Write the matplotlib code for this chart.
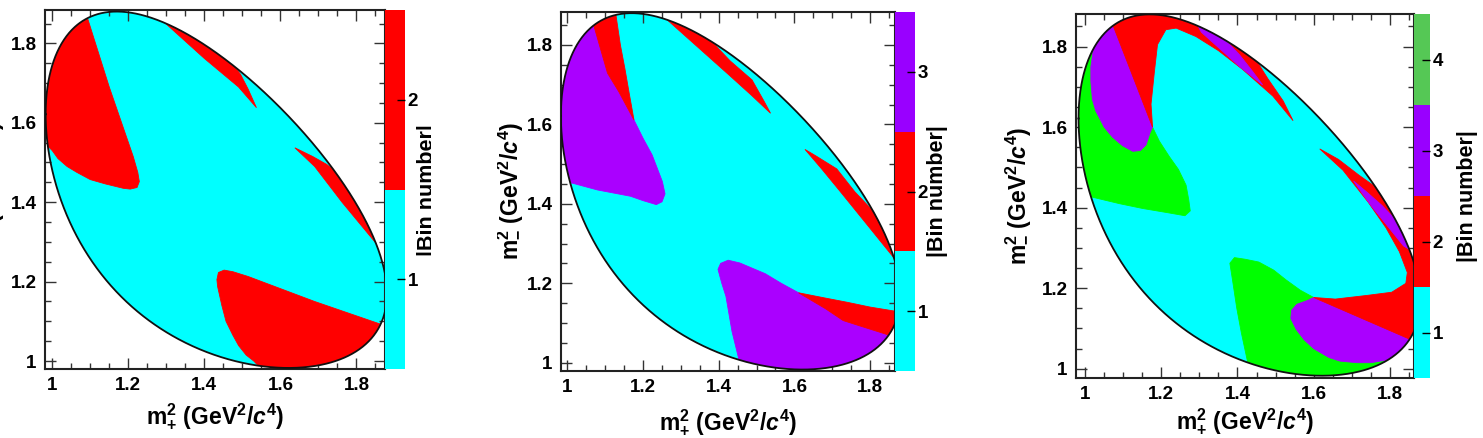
import numpy as np
import matplotlib
matplotlib.use('Agg')
import matplotlib.pyplot as plt
from matplotlib.colors import ListedColormap, BoundaryNorm
from matplotlib.cm import ScalarMappable
from matplotlib.patches import Polygon, Rectangle
from matplotlib.ticker import MultipleLocator, FuncFormatter

plt.rcParams['font.family'] = ['Liberation Sans', 'DejaVu Sans']
plt.rcParams['font.weight'] = 'bold'
plt.rcParams['mathtext.fontset'] = 'custom'
plt.rcParams['mathtext.rm'] = 'Liberation Sans:bold'
plt.rcParams['mathtext.it'] = 'Liberation Sans:bold:italic'
plt.rcParams['mathtext.bf'] = 'Liberation Sans:bold'

# ---------------- data ----------------
# particle masses (GeV/c^2) for D0 -> KS K+ K- phase space
M_D, M_KS, M_K = 1.86484, 0.497611, 0.493677

BIN_COLORS = ['#00ffff', '#ff0000', '#aa00ff', '#00ff00']
BAR_COLORS = ['#00ffff', '#ff0000', '#9900ff', '#55c855']
BAR_TICKS = [1, 2, 3, 4]

# bin regions in the m-^2 > m+^2 half (mirror copies are drawn too)
# panel 1
P1_BIN2_A_X = [1.064, 1.093, 1.150, 1.213, 1.225, 1.229, 1.223, 1.205, 1.187, 1.140, 1.100, 1.065, 1.039, 1.015, 1.000, 0.950, 0.900]
P1_BIN2_A_Y = [1.950, 1.863, 1.690, 1.515, 1.475, 1.452, 1.437, 1.433, 1.435, 1.446, 1.457, 1.475, 1.490, 1.510, 1.530, 1.580, 1.950]
P1_BIN2_B_X = [1.260, 1.297, 1.400, 1.490, 1.537, 1.515, 1.495, 1.450, 1.380, 1.280]
P1_BIN2_B_Y = [1.890, 1.851, 1.762, 1.690, 1.638, 1.685, 1.722, 1.780, 1.870, 1.930]
# panel 2
P2_BIN3_A_X = [1.050, 1.070, 1.092, 1.106, 1.136, 1.176, 1.200, 1.224, 1.251, 1.258, 1.250, 1.235, 1.200, 1.167, 1.079, 1.013, 0.950, 0.900]
P2_BIN3_A_Y = [1.930, 1.848, 1.775, 1.729, 1.682, 1.611, 1.565, 1.523, 1.456, 1.425, 1.405, 1.398, 1.408, 1.419, 1.435, 1.452, 1.462, 1.930]
P2_BIN2_A_X = [1.058, 1.070, 1.092, 1.106, 1.136, 1.176, 1.163, 1.152, 1.140, 1.128, 1.120]
P2_BIN2_A_Y = [1.930, 1.848, 1.775, 1.729, 1.682, 1.611, 1.680, 1.740, 1.800, 1.877, 1.930]
P2_BIN2_B_X = [1.230, 1.264, 1.350, 1.430, 1.488, 1.537, 1.520, 1.488, 1.430, 1.380, 1.330, 1.250]
P2_BIN2_B_Y = [1.890, 1.863, 1.790, 1.722, 1.672, 1.628, 1.658, 1.712, 1.760, 1.810, 1.880, 1.930]
# panel 3
P3_BIN4_A_X = [0.900, 1.015, 1.090, 1.151, 1.220, 1.262, 1.276, 1.272, 1.265, 1.245, 1.221, 1.195, 1.177, 1.076, 1.054, 0.900]
P3_BIN4_A_Y = [1.430, 1.427, 1.410, 1.398, 1.387, 1.380, 1.392, 1.420, 1.456, 1.495, 1.527, 1.565, 1.600, 1.846, 1.900, 1.900]
P3_BIN3_A_X = [1.054, 1.076, 1.177, 1.170, 1.160, 1.145, 1.125, 1.098, 1.072, 1.050, 1.028, 1.019, 1.015, 1.015, 1.022, 1.000]
P3_BIN3_A_Y = [1.900, 1.846, 1.600, 1.585, 1.556, 1.542, 1.540, 1.554, 1.575, 1.600, 1.640, 1.669, 1.714, 1.750, 1.795, 1.860]
P3_BIN2_A_X = [1.054, 1.076, 1.177, 1.173, 1.182, 1.190, 1.212, 1.239, 1.291, 1.350, 1.414, 1.493, 1.546, 1.520, 1.480, 1.440, 1.350, 1.150]
P3_BIN2_A_Y = [1.900, 1.846, 1.600, 1.657, 1.739, 1.805, 1.842, 1.846, 1.825, 1.790, 1.743, 1.677, 1.616, 1.665, 1.720, 1.780, 1.900, 1.950]
P3_BIN3_B_X = [1.280, 1.305, 1.405, 1.466, 1.440, 1.405, 1.370, 1.330]
P3_BIN3_B_Y = [1.880, 1.836, 1.751, 1.705, 1.738, 1.780, 1.815, 1.870]

PANELS = [
    dict(nbins=2,
         regions=[(2, P1_BIN2_A_X, P1_BIN2_A_Y), (2, P1_BIN2_B_X, P1_BIN2_B_Y)],
         xlim=(0.981, 1.875), ylim=(0.980, 1.884),
         box=(45, 10, 385, 369), cbox=(385, 10, 405, 369),
         xlab=(215, 416), ylab=(-9, 190), clab=(428, 190)),
    dict(nbins=3,
         regions=[(3, P2_BIN3_A_X, P2_BIN3_A_Y), (2, P2_BIN2_A_X, P2_BIN2_A_Y),
                  (2, P2_BIN2_B_X, P2_BIN2_B_Y)],
         xlim=(0.983, 1.866), ylim=(0.979, 1.883),
         box=(561, 12, 895, 371), cbox=(895, 12, 915, 371),
         xlab=(728, 422), ylab=(510, 191), clab=(937, 191)),
    dict(nbins=4,
         regions=[(4, P3_BIN4_A_X, P3_BIN4_A_Y), (3, P3_BIN3_A_X, P3_BIN3_A_Y),
                  (2, P3_BIN2_A_X, P3_BIN2_A_Y), (3, P3_BIN3_B_X, P3_BIN3_B_Y)],
         xlim=(0.976, 1.8635), ylim=(0.977, 1.881),
         box=(1076, 14, 1414, 378), cbox=(1414, 14, 1430, 378),
         xlab=(1245, 421), ylab=(1018, 196), clab=(1468, 196)),
]

XLABEL = r'$\mathrm{m}^{2}_{+}$ (GeV$^{2}$/$c^{4}$)'
YLABEL = r'$\mathrm{m}^{2}_{-}$ (GeV$^{2}$/$c^{4}$)'
CLABEL = '|Bin number|'

# ---------------- helpers ----------------
W, H = 1483, 438


def box_to_fig(b):
    l, t, r, btm = b
    return [l / W, (H - btm) / H, (r - l) / W, (btm - t) / H]


def dalitz_boundary(n=600):
    smin = (M_KS + M_K) ** 2
    smax = (M_D - M_K) ** 2
    t = np.linspace(0, np.pi, n)
    s = smin + (smax - smin) * (1 - np.cos(t)) / 2
    rs = np.sqrt(s)
    e1 = (s - M_K ** 2 + M_KS ** 2) / (2 * rs)
    e3 = (M_D ** 2 - s - M_K ** 2) / (2 * rs)
    p1 = np.sqrt(np.clip(e1 ** 2 - M_KS ** 2, 0, None))
    p3 = np.sqrt(np.clip(e3 ** 2 - M_K ** 2, 0, None))
    hi = (e1 + e3) ** 2 - (p1 - p3) ** 2
    lo = (e1 + e3) ** 2 - (p1 + p3) ** 2
    return np.concatenate([s, s[::-1]]), np.concatenate([hi, lo[::-1]])


fig = plt.figure(figsize=(W / 100, H / 100), dpi=100)
bx, by = dalitz_boundary()
fmt = FuncFormatter(lambda v, p: f'{v:g}')

for P in PANELS:
    ax = fig.add_axes(box_to_fig(P['box']))
    boundary = Polygon(np.column_stack([bx, by]), closed=True,
                       facecolor=BIN_COLORS[0], edgecolor='none', zorder=1)
    ax.add_patch(boundary)
    for b, xs, ys in P['regions']:
        c = BIN_COLORS[b - 1]
        for X, Y in ((xs, ys), (ys, xs)):
            for poly in ax.fill(X, Y, facecolor=c, edgecolor=c, lw=0.6, zorder=2):
                poly.set_clip_path(boundary)
    ax.plot(bx, by, color='#111111', lw=1.3, zorder=3)
    ax.set_xlim(*P['xlim'])
    ax.set_ylim(*P['ylim'])
    for axis in (ax.xaxis, ax.yaxis):
        axis.set_major_locator(MultipleLocator(0.2))
        axis.set_minor_locator(MultipleLocator(0.05))
        axis.set_major_formatter(fmt)
    ax.tick_params(which='both', direction='in', top=True, right=True,
                   color='#333333', width=1.0, labelsize=13.5)
    ax.tick_params(which='major', length=8)
    ax.tick_params(which='minor', length=4)
    ax.tick_params(axis='x', pad=6)
    ax.tick_params(axis='y', pad=6)
    for sp in ax.spines.values():
        sp.set_linewidth(1.5)
        sp.set_color('#222222')

    n = P['nbins']
    cax = fig.add_axes(box_to_fig(P['cbox']))
    cmap = ListedColormap(BAR_COLORS[:n])
    norm = BoundaryNorm(np.arange(0.5, n + 1.0, 1.0), n)
    cb = fig.colorbar(ScalarMappable(norm=norm, cmap=cmap), cax=cax,
                      ticks=BAR_TICKS[:n])
    cb.outline.set_visible(False)
    cb.minorticks_off()
    cax.tick_params(direction='in', length=6, width=1.0, color='black',
                    labelsize=13.5, pad=2)

    fig.text(P['xlab'][0] / W, 1 - P['xlab'][1] / H, XLABEL, ha='center',
             va='center', fontsize=16.5)
    fig.text(P['ylab'][0] / W, 1 - P['ylab'][1] / H, YLABEL, ha='center',
             va='center', fontsize=16.5, rotation=90)
    fig.text(P['clab'][0] / W, 1 - P['clab'][1] / H, CLABEL, ha='center',
             va='center', fontsize=15.5, rotation=90)

# panels were pasted side by side: the first one's right margin is cut
fig.patches.append(Rectangle((431 / W, 0), (497 - 431) / W, 1,
                             transform=fig.transFigure, facecolor='white',
                             edgecolor='none', zorder=20))

fig.savefig('out.png', dpi=100)
